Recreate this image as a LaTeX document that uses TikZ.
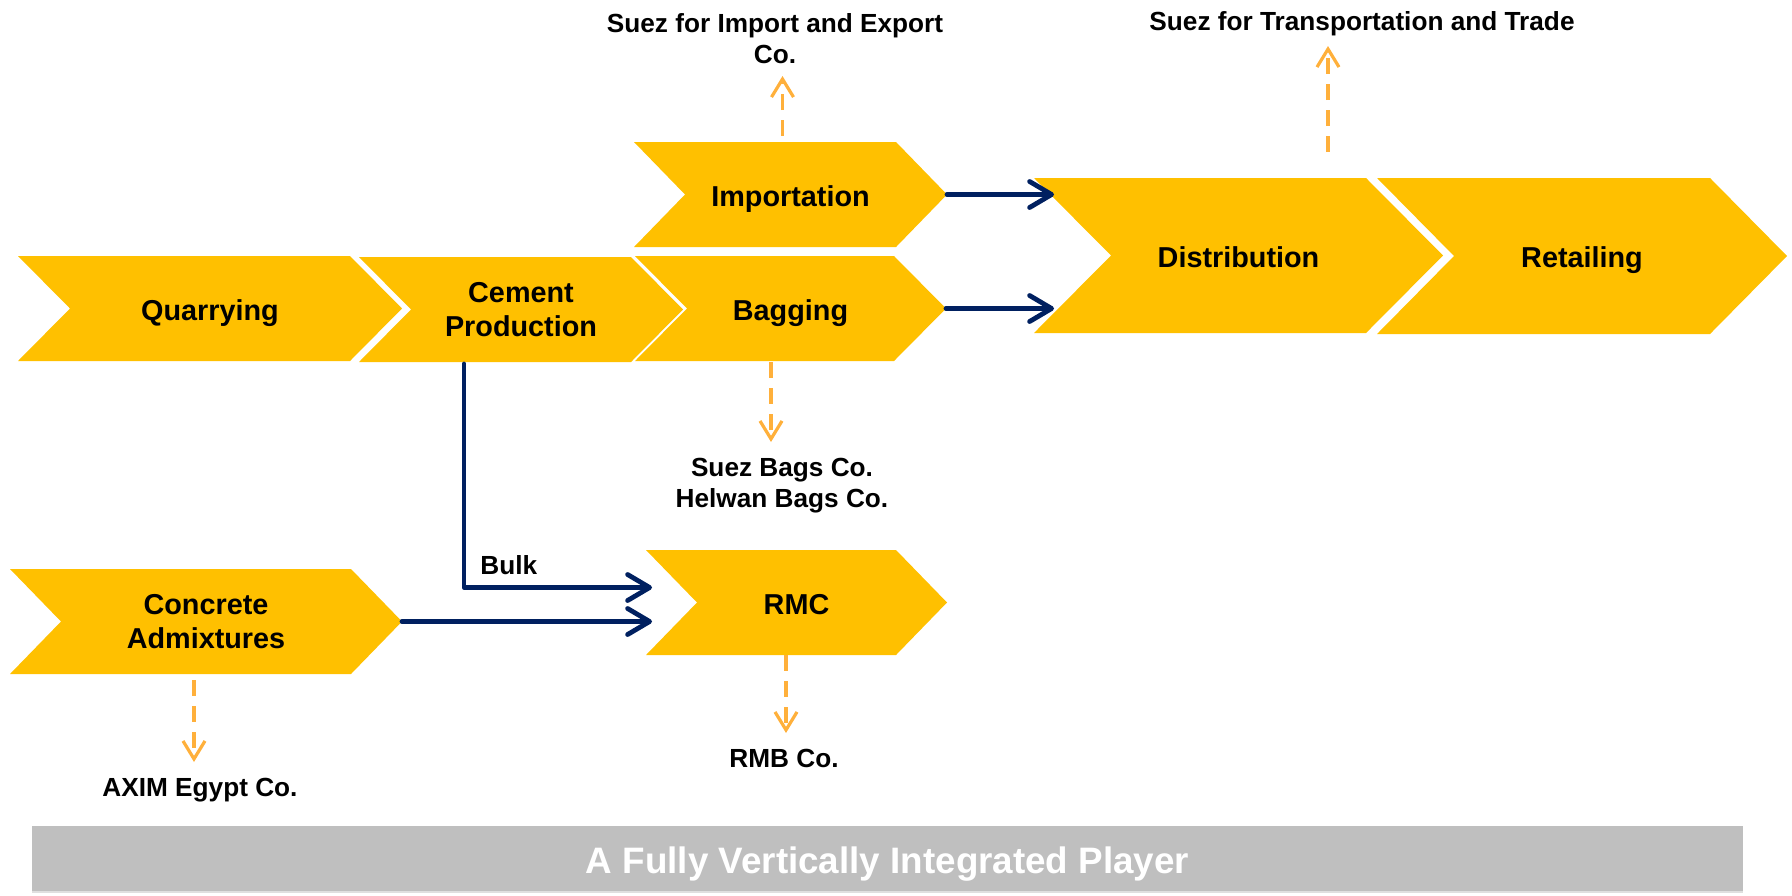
\documentclass[tikz,border=0pt]{standalone}
\usepackage{fontspec}
\setmainfont{Liberation Sans}
\usetikzlibrary{arrows.meta,calc,backgrounds,shadows}
\definecolor{chevgold}{RGB}{255,192,0}
\definecolor{flownavy}{RGB}{0,32,96}
\definecolor{linkorange}{RGB}{255,176,59}
\definecolor{bargray}{RGB}{191,191,191}
\begin{document}
\begin{tikzpicture}
[x=0.5pt,y=-0.5pt,
  stagedecorate/.style={shape=rectangle,inner sep=0pt,outer sep=0pt,align=center,font=\fontsize{14.4}{17.2}\selectfont\bfseries},%
  companydecorate/.style={inner sep=3pt,align=center,font=\fontsize{13.1}{15.5}\selectfont\bfseries},%
  flowdecorate/.style={draw=flownavy,line width=2.4pt,line cap=round,line join=round,-{Straight Barb[length=11pt,width=13pt,round]}},%
  linkdecorate/.style={draw=linkorange,line width=1.6pt,dash pattern=on 8pt off 5pt,-{Straight Barb[length=9pt,width=11pt]},shorten >=3pt}]
\useasboundingbox (0,0) rectangle (1792,895);
%% stages of the chain, one line of text
\foreach \nodename/\x/\y/\w/\h/\nodetext in {qua/210/308.5/384/105/Quarrying, bag/790.5/308.5/311/105/Bagging, imp/790.5/194.5/313/105/Importation, dist/1238.5/255.5/409/155/Distribution, ret/1582/256/410/156/Retailing, rmc/796.5/602.5/301/105/RMC} {
  \node (\nodename) at (\x,\y) [stagedecorate,text height=11.5pt,text depth=0pt,minimum width=\w*0.5pt,minimum height=\h*0.5pt] {\nodetext};
}
%% stages of the chain, two lines of text
\foreach \nodename/\x/\y/\w/\h/\nodetext in {cem/521/309.5/324/105/Cement\\Production, adm/206/621.5/392/105/Concrete\\Admixtures} {
  \node (\nodename) at (\x,\y) [stagedecorate,minimum width=\w*0.5pt,minimum height=\h*0.5pt] {\nodetext};
}
%% chevrons behind the stages
\begin{scope}[on background layer]
\foreach \nodename/\d in {qua/52, cem/52, bag/52, imp/51, dist/77, ret/77, adm/51, rmc/51} {
  \fill[chevgold] (\nodename.north west) -- ($(\nodename.north east)+(-\d,0)$) -- (\nodename.east)
    -- ($(\nodename.south east)+(-\d,0)$) -- (\nodename.south west) -- ($(\nodename.west)+(\d,0)$) -- cycle;
}
\end{scope}
%% companies
\node (sie) at (775,70) [companydecorate,anchor=south] {Suez for Import and Export\\Co.};
\node (stt) at (1362,42) [companydecorate,anchor=south] {Suez for Transportation and Trade};
\node (sbc) at (782,452) [companydecorate,anchor=north] {Suez Bags Co.\\Helwan Bags Co.};
\node (axim) at (200,772) [companydecorate,anchor=north] {AXIM Egypt Co.};
\node (rmb) at (784,743) [companydecorate,anchor=north] {RMB Co.};
%% bottom bar
\node (player) at (887.5,858.5) [fill=bargray,text=white,minimum width=855.5pt,minimum height=32.5pt,text height=14.5pt,text depth=0pt,
  drop shadow={shadow xshift=0pt,shadow yshift=-1.2pt,opacity=0.25},font=\fontsize{18.4}{22}\selectfont\bfseries] {A Fully Vertically Integrated Player};
%% material flows
\draw[flowdecorate] (imp.east) -- ($(imp.east -| dist.west)+(20,0)$);
\draw[flowdecorate] (bag.east) -- ($(bag.east -| dist.west)+(20,0)$);
\draw[flowdecorate] ($(cem.south)+(-57,2)$) |- node[pos=0.5,anchor=south west,companydecorate,xshift=4pt,yshift=2pt] {Bulk} ($(rmc.west)+(6,-15)$);
\draw[flowdecorate] (adm.east) -- ($(adm.east -| rmc.west)+(6,0)$);
%% links to companies
\draw[linkdecorate] ($(imp.north)+(-8,-6)$) -- ($(imp.north |- sie.south)+(-8,0)$);
\draw[linkdecorate,shorten >=2pt] ($(dist.north)+(89.5,-26)$) -- ($(dist.north |- stt.south)+(89.5,0)$);
\draw[linkdecorate,shorten >=5pt] ($(bag.south)+(-19.5,1)$) -- ($(bag.south |- sbc.north)+(-19.5,0)$);
\draw[linkdecorate,shorten >=5pt] ($(adm.south)+(-12,6)$) -- ($(adm.south |- axim.north)+(-12,0)$);
\draw[linkdecorate,shorten >=5pt] ($(rmc.south)+(-10.5,0)$) -- ($(rmc.south |- rmb.north)+(-10.5,0)$);
\end{tikzpicture}
\end{document}
